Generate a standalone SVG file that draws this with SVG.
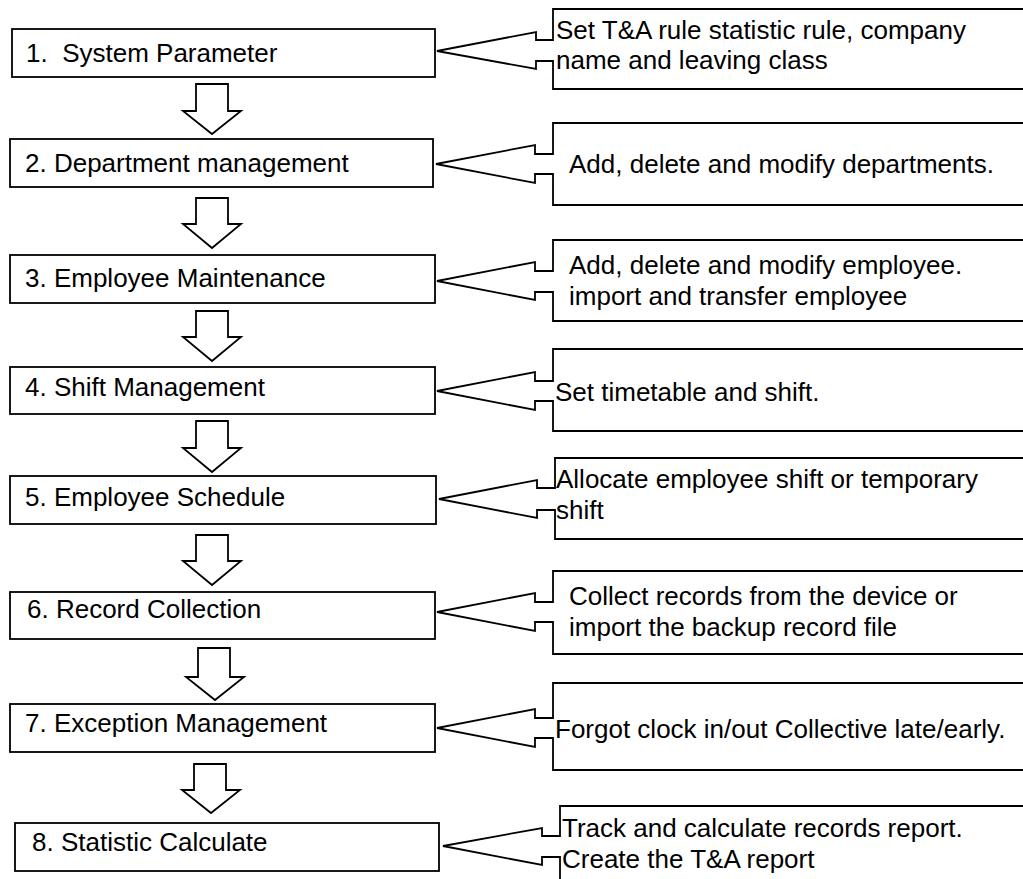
<svg xmlns="http://www.w3.org/2000/svg" width="1023" height="879" viewBox="0 0 1023 879">
<style>
.box{fill:#fff;stroke:#000;stroke-width:1.8}
.co{fill:#fff;stroke:#000;stroke-width:1.8;stroke-linejoin:miter}
.arr{fill:#fff;stroke:#000;stroke-width:1.8}
text{font-family:"Liberation Sans",Arial,sans-serif;font-size:26px;fill:#000}
</style>
<rect width="1023" height="879" fill="#fff"/>
<g id="connectors">
<path class="arr" d="M196,84 H228 V111 H241 L212,134 L183,111 H196 Z"/>
<path class="arr" d="M196,198 H228 V224 H241 L212,248 L183,224 H196 Z"/>
<path class="arr" d="M196,311 H228 V337 H241 L212,361 L183,337 H196 Z"/>
<path class="arr" d="M196,421 H228 V448 H241 L212,472 L183,448 H196 Z"/>
<path class="arr" d="M196,535 H228 V561 H241 L212,585 L183,561 H196 Z"/>
<path class="arr" d="M198,648 H230 V677 H244 L215,700 L186,677 H198 Z"/>
<path class="arr" d="M194,764 H226 V790 H240 L211,813 L182,790 H194 Z"/>
</g>
<g id="n1"><rect class="box" x="12" y="29" width="423" height="48"/><text x="26" y="62" xml:space="preserve">1.  System Parameter</text></g>
<g id="c1"><path class="co" d="M1030,9 H553 V40 H536 V32 L437,51 L536,69 V61 H553 V89 H1030"/><text x="556" y="39">Set T&amp;A rule statistic rule, company</text><text x="556" y="69">name and leaving class</text></g>
<g id="n2"><rect class="box" x="10" y="139" width="423" height="48"/><text x="25" y="172">2. Department management</text></g>
<g id="c2"><path class="co" d="M1030,123 H553 V154 H535 V145 L436,164 L535,183 V174 H553 V205 H1030"/><text x="569" y="173">Add, delete and modify departments.</text></g>
<g id="n3"><rect class="box" x="10" y="255" width="425" height="48"/><text x="25" y="287">3. Employee Maintenance</text></g>
<g id="c3"><path class="co" d="M1030,240 H553 V271 H535 V262 L437,281 L535,300 V292 H553 V321 H1030"/><text x="569" y="274">Add, delete and modify employee.</text><text x="569" y="305">import and transfer employee</text></g>
<g id="n4"><rect class="box" x="10" y="367" width="425" height="47"/><text x="25" y="396">4. Shift Management</text></g>
<g id="c4"><path class="co" d="M1030,349 H553 V381 H535 V372 L437,391 L535,410 V401 H553 V431 H1030"/><text x="555" y="401">Set timetable and shift.</text></g>
<g id="n5"><rect class="box" x="10" y="476" width="426" height="48"/><text x="25" y="506">5. Employee Schedule</text></g>
<g id="c5"><path class="co" d="M1030,458 H555 V488 H537 V480 L439,499 L537,518 V510 H555 V539 H1030"/><text x="556" y="488">Allocate employee shift or temporary</text><text x="556" y="519">shift</text></g>
<g id="n6"><rect class="box" x="10" y="592" width="425" height="47"/><text x="27" y="618">6. Record Collection</text></g>
<g id="c6"><path class="co" d="M1030,571 H553 V602 H535 V593 L437,612 L535,631 V622 H553 V654 H1030"/><text x="569" y="605">Collect records from the device or</text><text x="569" y="636">import the backup record file</text></g>
<g id="n7"><rect class="box" x="10" y="704" width="425" height="48"/><text x="25" y="732">7. Exception Management</text></g>
<g id="c7"><path class="co" d="M1030,683 H553 V718 H535 V709 L437,728 L535,747 V738 H553 V770 H1030"/><text x="555" y="738">Forgot clock in/out Collective late/early.</text></g>
<g id="n8"><rect class="box" x="15" y="823" width="424" height="48"/><text x="32" y="851">8. Statistic Calculate</text></g>
<g id="c8"><path class="co" d="M1030,806 H560 V836 H542 V828 L443,846 L542,865 V857 H560 V890 H1030"/><text x="562" y="837">Track and calculate records report.</text><text x="562" y="868">Create the T&amp;A report</text></g>
</svg>
